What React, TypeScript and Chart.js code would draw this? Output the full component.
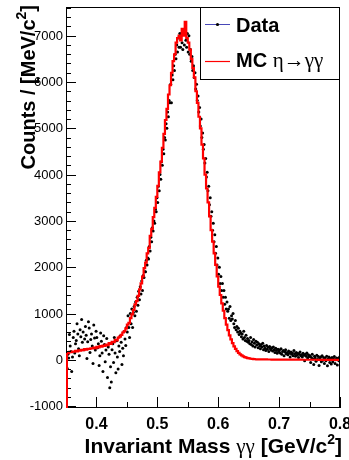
import React, { useEffect, useRef } from "react";
import { Chart, registerables } from "chart.js";

Chart.register(...registerables);

// Histogram binning (GeV/c^2)
const binLow = 0.35;
const mcBinWidth = 0.0025;
const dataBinWidth = 0.00125;

// MC eta->gamma gamma histogram counts per bin
const mcCounts = [
  150, 160, 145, 170, 165, 180, 175, 195, 185, 205,
  200, 215, 210, 230, 220, 240, 235, 250, 245, 265,
  255, 280, 270, 295, 285, 310, 300, 330, 320, 360,
  345, 390, 380, 430, 420, 480, 500, 540, 590, 620,
  680, 760, 800, 900, 980, 1080, 1200, 1270, 1380, 1520,
  1650, 1800, 1980, 2100, 2300, 2420, 2680, 2830, 3080, 3280,
  3520, 3760, 4050, 4280, 4580, 4880, 5180, 5420, 5730, 5930,
  6200, 6450, 6600, 6850, 6950, 7000, 6900, 7150, 7000, 7300,
  6950, 6850, 6700, 6500, 6300, 6100, 5800, 5550, 5250, 5000,
  4650, 4350, 4000, 3700, 3400, 3100, 2800, 2550, 2300, 2050,
  1800, 1580, 1400, 1220, 1060, 900, 760, 640, 530, 440,
  360, 290, 235, 190, 150, 120, 95, 75, 60, 48,
  38, 30, 24, 19, 15, 13, 12, 11, 10, 9,
  9, 8, 8, 7, 7, 7, 6, 6, 6, 5,
  5, 5, 5, 4, 4, 4, 4, 4, 3, 3,
  3, 3, 3, 3, 3, 2, 2, 2, 2, 2,
  2, 2, 2, 2, 2, 2, 1, 1, 1, 1,
  1, 1, 1, 1, 1, 1, 1, 1, 1, 1,
];

// Data counts per bin (finer binning)
const dataCounts = [
  -560, -180, 120, 40, 550, 300, 180, -250, 60, 480,
  620, 150, 350, 420, 780, 560, 240, 90, 650, 500,
  870, 380, 600, 220, 450, 720, 530, 30, 390, 820,
  690, 160, 440, 560, 300, -80, 750, 470, 210, 620,
  480, 260, 350, -120, 90, 580, 400, 150, -250, 520,
  330, -40, 210, 460, -380, 280, 120, -600, -150, -480,
  220, 350, -60, 480, 150, -280, 410, 60, -200, 300,
  180, 520, 380, -100, 250, 90, 620, 450, 310, 700,
  600, 950, 700, 480, 1000, 780, 1100, 700, 1020, 1150,
  950, 1250, 1050, 1350, 1180, 1480, 1300, 1580, 1420, 1700,
  1500, 1820, 1780, 1900, 1900, 2150, 2050, 2200, 2180, 2450,
  2350, 2650, 2550, 2850, 2780, 3000, 2950, 3250, 3200, 3500,
  3400, 3750, 3650, 4000, 3900, 4280, 4200, 4550, 4450, 4800,
  4750, 5100, 5000, 5350, 5250, 5600, 5550, 5950, 5550, 6150,
  6050, 6350, 6250, 6600, 6500, 6800, 6650, 6950, 6750, 7050,
  6750, 7050, 6850, 6700, 7100, 6800, 7150, 6900, 6750, 7050,
  6650, 7000, 6600, 6700, 6450, 6550, 6250, 6350, 6100, 6200,
  5850, 5950, 5600, 5700, 5350, 5450, 5050, 5200, 4800, 4900,
  4550, 4650, 4250, 4350, 3950, 4050, 3650, 3750, 3350, 3500,
  3100, 3200, 2800, 2950, 2550, 2700, 2300, 2450, 2050, 2200,
  1850, 2000, 1650, 1800, 1500, 1650, 1350, 1500, 1200, 1350,
  1100, 1250, 1050, 1100, 900, 1150, 850, 950, 880, 1000,
  780, 700, 850, 650, 720, 600, 680, 550, 620, 580,
  500, 560, 450, 620, 480, 420, 530, 400, 460, 380,
  420, 350, 480, 330, 390, 300, 440, 360, 280, 400,
  320, 380, 260, 350, 300, 240, 330, 280, 360, 220,
  300, 250, 200, 310, 230, 270, 180, 290, 240, 210,
  260, 190, 280, 220, 160, 250, 200, 140, 230, 180,
  210, 150, 240, 120, 180, 200, 90, 170, 220, 130,
  160, 110, 190, 140, 60, 170, 120, 150, 90, 200,
  130, 80, 160, 100, 140, 50, 120, 170, 90, 110,
  60, 140, 100, -20, 120, 80, 150, 40, 110, 70,
  90, -60, 50, 120, 20, -100, 80, 40, -30, 100,
  10, 70, -120, 30, 60, -40, 90, -10, 50, -80,
  40, -20, 80, -130, 20, 60, -60, 30, -90, 50,
  -40, 20, 70, -80, 0, 40, -110, 30, -20, 60,
];

// Axis ranges and ticks
const xMin = 0.35;
const xMax = 0.8;
const yMin = -1040;
const yMax = 7620;
const xMajorTicks = [0.4, 0.5, 0.6, 0.7, 0.8];
const xTickLabels = ["0.4", "0.5", "0.6", "0.7", "0.8"];
const xMinorTicks = [0.45, 0.55, 0.65, 0.75];
const yMajorTicks = [-1000, 0, 1000, 2000, 3000, 4000, 5000, 6000, 7000];
const yTickLabels = ["-1000", "0", "1000", "2000", "3000", "4000", "5000", "6000", "7000"];
const yMinorStep = 200;

const SANS = "'Liberation Sans', Arial, Helvetica, sans-serif";
const SERIF = "'Liberation Serif', 'Times New Roman', serif";

type Run = { t: string; font: string; dy?: number };

function drawRuns(ctx: CanvasRenderingContext2D, runs: Run[], x: number, y: number, align: "left" | "right" | "center") {
  const widths = runs.map((r) => {
    ctx.font = r.font;
    return ctx.measureText(r.t).width;
  });
  const total = widths.reduce((a, b) => a + b, 0);
  let cx = align === "right" ? x - total : align === "center" ? x - total / 2 : x;
  ctx.textAlign = "left";
  ctx.textBaseline = "alphabetic";
  runs.forEach((r, i) => {
    ctx.font = r.font;
    ctx.fillText(r.t, cx, y + (r.dy || 0));
    cx += widths[i];
  });
}

const rootStyle = {
  id: "rootStyle",
  afterDatasetsDraw(chart: any) {
    const { ctx, chartArea: a, scales } = chart;
    const x = scales.x;
    const y = scales.y;
    ctx.save();
    // frame
    ctx.strokeStyle = "#000";
    ctx.lineWidth = 1;
    ctx.strokeRect(a.left + 0.5, a.top + 0.5, a.right - a.left - 1, a.bottom - a.top - 1);
    // x ticks
    ctx.beginPath();
    xMajorTicks.forEach((v) => {
      const px = Math.round(x.getPixelForValue(v)) + 0.5;
      ctx.moveTo(px, a.bottom);
      ctx.lineTo(px, a.bottom - 11);
    });
    xMinorTicks.forEach((v) => {
      const px = Math.round(x.getPixelForValue(v)) + 0.5;
      ctx.moveTo(px, a.bottom);
      ctx.lineTo(px, a.bottom - 6);
    });
    // y ticks
    yMajorTicks.forEach((v) => {
      const py = Math.round(y.getPixelForValue(v)) + 0.5;
      ctx.moveTo(a.left, py);
      ctx.lineTo(a.left + 10, py);
    });
    for (let v = yMajorTicks[0]; v <= yMax; v += yMinorStep) {
      if (v % 1000 === 0) continue;
      const py = Math.round(y.getPixelForValue(v)) + 0.5;
      ctx.moveTo(a.left, py);
      ctx.lineTo(a.left + 5, py);
    }
    ctx.stroke();
    // MC histogram left edge
    ctx.strokeStyle = "#ff0000";
    ctx.lineWidth = 2;
    ctx.beginPath();
    const ex = x.getPixelForValue(binLow) + 1;
    ctx.moveTo(ex, a.bottom);
    ctx.lineTo(ex, y.getPixelForValue(mcCounts[0]));
    ctx.stroke();
    ctx.restore();
  },
  afterDraw(chart: any) {
    const { ctx, chartArea: a, scales } = chart;
    const x = scales.x;
    const y = scales.y;
    ctx.save();
    ctx.fillStyle = "#000";
    // y tick labels
    ctx.font = `13px ${SANS}`;
    ctx.textAlign = "right";
    ctx.textBaseline = "middle";
    yMajorTicks.forEach((v, i) => {
      ctx.fillText(yTickLabels[i], a.left - 3, y.getPixelForValue(v) + 0.5);
    });
    // x tick labels
    ctx.font = `bold 16px ${SANS}`;
    ctx.textAlign = "center";
    ctx.textBaseline = "alphabetic";
    xMajorTicks.forEach((v, i) => {
      ctx.fillText(xTickLabels[i], x.getPixelForValue(v), a.bottom + 21);
    });
    // x title
    drawRuns(
      ctx,
      [
        { t: "Invariant Mass ", font: `bold 21px ${SANS}` },
        { t: "γγ", font: `21px ${SERIF}` },
        { t: " [GeV/c", font: `bold 21px ${SANS}` },
        { t: "2", font: `bold 14px ${SANS}`, dy: -9 },
        { t: "]", font: `bold 21px ${SANS}` },
      ],
      a.right + 2,
      a.bottom + 45,
      "right"
    );
    // y title
    ctx.save();
    ctx.translate(35, a.top - 2);
    ctx.rotate(-Math.PI / 2);
    drawRuns(
      ctx,
      [
        { t: "Counts / [MeV/c", font: `bold 20px ${SANS}` },
        { t: "2", font: `bold 14px ${SANS}`, dy: -9 },
        { t: "]", font: `bold 20px ${SANS}` },
      ],
      0,
      0,
      "right"
    );
    ctx.restore();
    // legend
    const lx = a.right - 140;
    const ly = a.top;
    ctx.fillStyle = "#fff";
    ctx.fillRect(lx, ly, 140, 72);
    ctx.strokeStyle = "#000";
    ctx.lineWidth = 1;
    ctx.strokeRect(lx + 0.5, ly + 0.5, 139, 72);
    ctx.strokeStyle = "#4848b8";
    ctx.beginPath();
    ctx.moveTo(lx + 5, ly + 17.5);
    ctx.lineTo(lx + 30, ly + 17.5);
    ctx.stroke();
    ctx.fillStyle = "#000";
    ctx.beginPath();
    ctx.arc(lx + 17.5, ly + 17.5, 1.6, 0, Math.PI * 2);
    ctx.fill();
    ctx.strokeStyle = "#ff0000";
    ctx.lineWidth = 1.2;
    ctx.beginPath();
    ctx.moveTo(lx + 5, ly + 54.5);
    ctx.lineTo(lx + 30, ly + 54.5);
    ctx.stroke();
    ctx.fillStyle = "#000";
    drawRuns(ctx, [{ t: "Data", font: `bold 20px ${SANS}` }], lx + 36, ly + 25, "left");
    drawRuns(
      ctx,
      [
        { t: "MC ", font: `bold 20px ${SANS}` },
        { t: "η→γγ", font: `21px ${SERIF}` },
      ],
      lx + 36,
      ly + 60,
      "left"
    );
    ctx.restore();
  },
};

export default function App() {
  const canvasRef = useRef<HTMLCanvasElement | null>(null);

  useEffect(() => {
    if (!canvasRef.current) return;
    const mcPoints = mcCounts.map((v, i) => ({ x: binLow + i * mcBinWidth, y: v }));
    mcPoints.push({ x: binLow + mcCounts.length * mcBinWidth, y: mcCounts[mcCounts.length - 1] });
    const dataPoints = dataCounts.map((v, i) => ({ x: binLow + (i + 0.5) * dataBinWidth, y: v }));

    const chart = new Chart(canvasRef.current, {
      type: "line",
      data: {
        datasets: [
          {
            label: "MC",
            data: mcPoints,
            stepped: "after",
            borderColor: "#ff0000",
            borderWidth: 2.2,
            pointRadius: 0,
            fill: false,
          },
          {
            label: "Data",
            data: dataPoints,
            showLine: false,
            pointRadius: 1.5,
            pointBackgroundColor: "#000",
            pointBorderWidth: 0,
            borderColor: "#000",
          },
        ],
      },
      options: {
        responsive: false,
        animation: false,
        devicePixelRatio: 1,
        layout: { padding: { top: 7, right: 9, left: 0, bottom: 0 } },
        plugins: { legend: { display: false }, tooltip: { enabled: false } },
        scales: {
          x: {
            type: "linear",
            min: xMin,
            max: xMax,
            grid: { display: false },
            border: { display: false },
            ticks: { display: false },
            afterFit: (s: any) => {
              s.height = 52;
            },
          },
          y: {
            type: "linear",
            min: yMin,
            max: yMax,
            grid: { display: false },
            border: { display: false },
            ticks: { display: false },
            afterFit: (s: any) => {
              s.width = 66;
            },
          },
        },
      },
      plugins: [rootStyle],
    });
    return () => chart.destroy();
  }, []);

  return (
    <div style={{ position: "fixed", left: 0, top: 0, width: 349, height: 460, background: "#fff" }}>
      <canvas ref={canvasRef} width={349} height={460} style={{ display: "block" }} />
    </div>
  );
}
